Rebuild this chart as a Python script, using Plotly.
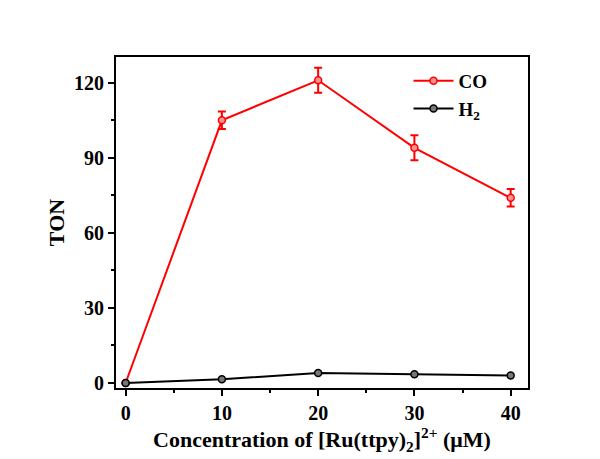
import plotly.graph_objects as go

conc = [0, 10, 20, 30, 40]
co_ton = [0, 105, 121, 94, 74]
co_err = [0, 3.5, 5, 5, 3.5]
h2_ton = [0, 1.5, 4, 3.5, 3]
x_ticks = [0, 10, 20, 30, 40]
y_ticks = [0, 30, 60, 90, 120]

FONT = "Liberation Serif"

fig = go.Figure()
fig.add_trace(go.Scatter(
    x=conc, y=co_ton, name="CO", mode="lines+markers",
    line=dict(color="#ff0000", width=2),
    marker=dict(symbol="circle", size=7, color="#ff9090",
                line=dict(color="#ff0000", width=1.5)),
    error_y=dict(type="data", array=co_err, visible=True,
                 color="#ff0000", thickness=2, width=4),
))
fig.add_trace(go.Scatter(
    x=conc, y=h2_ton, name="H<sub>2</sub>", mode="lines+markers",
    line=dict(color="#000000", width=2),
    marker=dict(symbol="circle", size=7, color="#777777",
                line=dict(color="#000000", width=1.5)),
))

axis_common = dict(
    showline=True, linecolor="black", linewidth=2, mirror=True,
    ticks="outside", ticklen=6, tickwidth=2, tickcolor="black",
    showgrid=False, zeroline=False,
    tickfont=dict(family=FONT, size=20, color="black", weight="bold"),
)

fig.update_xaxes(
    range=[-1, 41.8], tickvals=x_ticks,
    minor=dict(ticks="outside", ticklen=3, tickwidth=2, tickcolor="black", dtick=5, showgrid=False),
    title=dict(text="Concentration of [Ru(ttpy)<sub>2</sub>]<sup>2+</sup> (μM)",
               font=dict(family=FONT, size=22, color="black", weight="bold"), standoff=8),
    **axis_common,
)
fig.update_yaxes(
    range=[-2, 130.3], tickvals=y_ticks,
    minor=dict(ticks="outside", ticklen=3, tickwidth=2, tickcolor="black", dtick=15, showgrid=False),
    title=dict(text="TON", font=dict(family=FONT, size=22, color="black", weight="bold"), standoff=3),
    **axis_common,
)

fig.update_layout(
    width=600, height=459,
    margin=dict(l=116, r=72, t=57, b=66),
    paper_bgcolor="white", plot_bgcolor="white",
    font=dict(family=FONT, size=20, color="black"),
    showlegend=True,
    legend=dict(x=0.71, y=0.985, xanchor="left", yanchor="top",
                bgcolor="rgba(0,0,0,0)",
                font=dict(family=FONT, size=19, color="black", weight="bold"),
                itemwidth=40, tracegroupgap=0),
)

fig.write_html("out.html")
